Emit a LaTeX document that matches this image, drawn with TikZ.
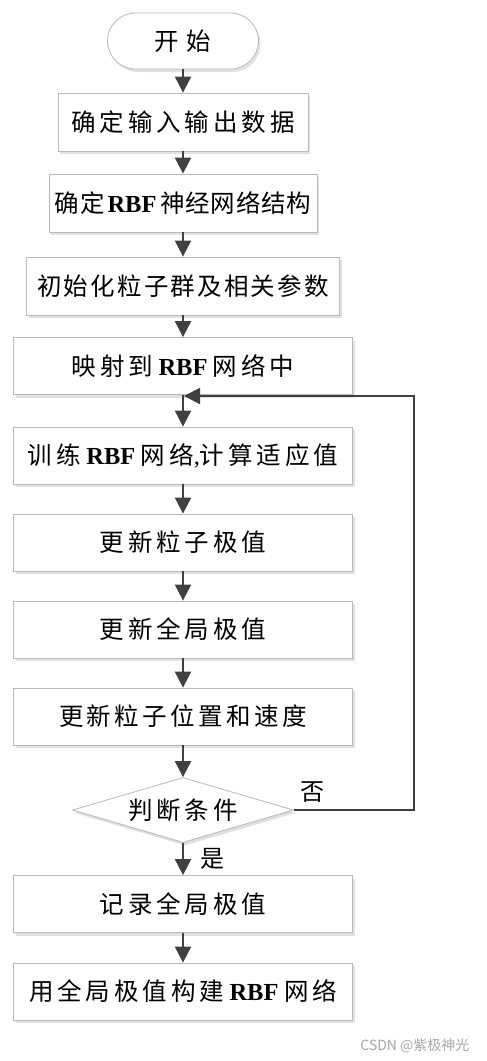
\documentclass[tikz,border=0pt]{standalone}
\usepackage{fontspec}
\setmainfont{Noto Sans CJK SC}
\newfontfamily\tnr{Liberation Serif}
\usetikzlibrary{arrows.meta,shapes.geometric,shadows}
\newcommand\ls[2]{{\addfontfeatures{LetterSpace=#1}#2}}
\newcommand\RBF{{\tnr\bfseries RBF}}
\begin{document}
\begin{tikzpicture}[x=1pt,y=-1pt,
 box/.style={draw=gray!55, line width=0.8pt, fill=white, minimum width=339pt, minimum height=57pt, inner sep=0pt,
   font=\fontsize{24.5}{27}\selectfont,
   drop shadow={shadow xshift=2pt,shadow yshift=-3pt,fill=gray!45,opacity=0.5}},
 arr/.style={draw=black!75, line width=2pt, -{Triangle[width=16pt,length=16pt]}},
 lbl/.style={font=\fontsize{24}{27}\selectfont, inner sep=0pt},
]
\useasboundingbox (0,0) rectangle (487,1061);
\node[box, rounded corners=28pt, minimum width=151pt, minimum height=56pt] (s) at (183,41) {\ls{30}{开始}};
\node[box, minimum width=250pt, minimum height=58pt] (b1) at (183,122) {\ls{16}{确定输入输出数据}};
\node[box, minimum width=268pt, minimum height=58pt] (b2) at (183,203) {\ls{3}{确定}\hspace{3pt}\RBF\hspace{4pt}\ls{3}{神经网络结构}};
\node[box, minimum width=313pt, minimum height=58pt] (b3) at (183,286) {\ls{9}{初始化粒子群及相关参数}};
\node[box] (b4) at (183,366) {\ls{16}{映射到} \RBF\ \ls{16}{网络中}};
\node[box] (b5) at (183,455.5) {\ls{16}{训练} \RBF\ \ls{16}{网络}{\tnr ,}\ls{16}{计算适应值}};
\node[box] (b6) at (183,542.5) {\ls{16}{更新粒子极值}};
\node[box] (b7) at (183,629.5) {\ls{16}{更新全局极值}};
\node[box] (b8) at (183,716.5) {\ls{14}{更新粒子位置和速度}};
\node[box, diamond, aspect=3.4, minimum width=221pt, minimum height=65pt, drop shadow={shadow xshift=1pt,shadow yshift=-2pt,fill=gray!30,opacity=0.4}] (d) at (183,810) {\ls{16}{判断条件}};
\node[box] (b9) at (183,904) {\ls{16}{记录全局极值}};
\node[box] (b10) at (183,991.5) {\ls{16}{用全局极值构建} \RBF\ \ls{16}{网络}};
\coordinate (j) at (184,396);
\draw[arr] (s) -- (b1);
\draw[arr] (b1) -- (b2);
\draw[arr] (b2) -- (b3);
\draw[arr] (b3) -- (b4);
\draw[arr] (b4) -- (b5);
\draw[arr] (b5) -- (b6);
\draw[arr] (b6) -- (b7);
\draw[arr] (b7) -- (b8);
\draw[arr] (b8) -- (d);
\draw[arr] (d) -- (b9);
\draw[arr] (b9) -- (b10);
\draw[arr] (d.east) -- ++(120,0) |- (j);
\node[lbl] (no) at (312,792) {否};
\node[lbl] (yes) at (212,859) {是};
\node[anchor=east, text=gray!70, font=\fontsize{14}{16}\selectfont] (wm) at (473,1046) {CSDN @紫极神光};
\end{tikzpicture}
\end{document}
